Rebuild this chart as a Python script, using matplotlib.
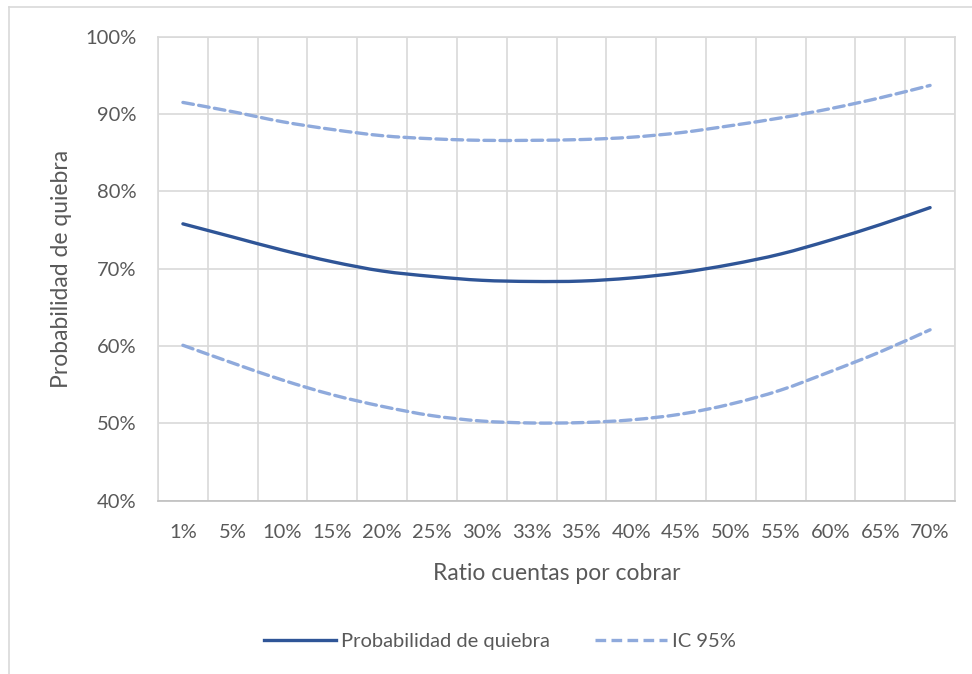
import numpy as np
import matplotlib
matplotlib.use("Agg")
import matplotlib.pyplot as plt
from matplotlib.path import Path
from matplotlib.patches import PathPatch
from matplotlib.lines import Line2D
from matplotlib.ticker import PercentFormatter

plt.rcParams["font.family"] = ["Lato", "DejaVu Sans"]

categorias = ["1%", "5%", "10%", "15%", "20%", "25%", "30%", "33%",
              "35%", "40%", "45%", "50%", "55%", "60%", "65%", "70%"]
prob_quiebra = [0.758, 0.741, 0.724, 0.709, 0.697, 0.690, 0.685, 0.6835,
                0.684, 0.688, 0.695, 0.7055, 0.719, 0.737, 0.757, 0.779]
ic_superior = [0.915, 0.903, 0.890, 0.880, 0.872, 0.868, 0.866, 0.866,
               0.867, 0.870, 0.876, 0.885, 0.895, 0.907, 0.921, 0.937]
ic_inferior = [0.601, 0.578, 0.556, 0.537, 0.522, 0.510, 0.503, 0.5005,
               0.501, 0.5045, 0.512, 0.525, 0.543, 0.567, 0.5925, 0.621]

azul = "#2F5597"
azul_claro = "#8FAADC"
gris_texto = "#595959"
gris_linea = "#D9D9D9"


def curva_suave(xs, ys):
    # smoothed line like Excel (Catmull-Rom turned into bezier segments)
    p = np.column_stack([xs, ys])
    p_ext = np.vstack([p[0], p, p[-1]])
    verts = [p[0]]
    codes = [Path.MOVETO]
    for i in range(len(p) - 1):
        a, b, c, d = p_ext[i], p_ext[i + 1], p_ext[i + 2], p_ext[i + 3]
        verts += [b + (c - a) / 6, c - (d - b) / 6, c]
        codes += [Path.CURVE4] * 3
    return Path(verts, codes)


fig = plt.figure(figsize=(9.72, 6.74), dpi=100)
ax = fig.add_axes([158 / 972, 1 - 500.7 / 674, 797 / 972, 464 / 674])

x = np.arange(len(categorias))
guion = (0, (3.2, 1.6))

ax.add_patch(PathPatch(curva_suave(x, prob_quiebra), fill=False, edgecolor=azul,
                       lw=2.4, capstyle="round", joinstyle="round", zorder=3))
for serie in [ic_superior, ic_inferior]:
    ax.add_patch(PathPatch(curva_suave(x, serie), fill=False, edgecolor=azul_claro,
                           lw=2.4, linestyle=guion, capstyle="round", zorder=3))

ax.set_xlim(-0.5, len(categorias) - 0.5)
ax.set_ylim(0.4, 1.0)

ax.set_xticks(x)
ax.set_xticklabels(categorias)
ax.set_xticks(np.arange(-0.5, len(categorias)), minor=True)
ax.set_yticks(np.arange(0.4, 1.01, 0.1))
ax.yaxis.set_major_formatter(PercentFormatter(1.0, decimals=0))

ax.grid(True, which="minor", axis="x", color=gris_linea, lw=1.2)
ax.grid(True, which="major", axis="y", color=gris_linea, lw=1.2)
ax.set_axisbelow(True)

ax.tick_params(axis="both", which="both", length=0, labelsize=14.5, colors=gris_texto)
ax.tick_params(axis="y", pad=15.5)
ax.tick_params(axis="x", pad=17)

for lado in ["top", "right", "left"]:
    ax.spines[lado].set_color(gris_linea)
    ax.spines[lado].set_linewidth(1.2)
ax.spines["bottom"].set_color("#BFBFBF")
ax.spines["bottom"].set_linewidth(1.2)

ax.set_xlabel("Ratio cuentas por cobrar", fontsize=16.5, color=gris_texto)
ax.set_ylabel("Probabilidad de quiebra", fontsize=16.5, color=gris_texto)
ax.xaxis.set_label_coords(0.5, -0.134)
ax.yaxis.set_label_coords(-0.108, 0.5)

handles = [Line2D([], [], color=azul, lw=2.4),
           Line2D([], [], color=azul_claro, lw=2.4, linestyle=guion)]
fig.legend(handles, ["Probabilidad de quiebra", "IC 95%"], loc="center",
           bbox_to_anchor=(500 / 972, 1 - 641 / 674), ncol=2, frameon=False,
           fontsize=14.5, labelcolor=gris_texto, handlelength=3.6,
           handletextpad=0.25, columnspacing=2.2)

# chart area border (only top and left edges visible)
fig.add_artist(Line2D([9 / 972, 9 / 972], [0, 1 - 7 / 674], color=gris_linea, lw=1.2,
                      transform=fig.transFigure))
fig.add_artist(Line2D([9 / 972, 1], [1 - 7 / 674, 1 - 7 / 674], color=gris_linea, lw=1.2,
                      transform=fig.transFigure))

fig.savefig("out.png", dpi=100)
